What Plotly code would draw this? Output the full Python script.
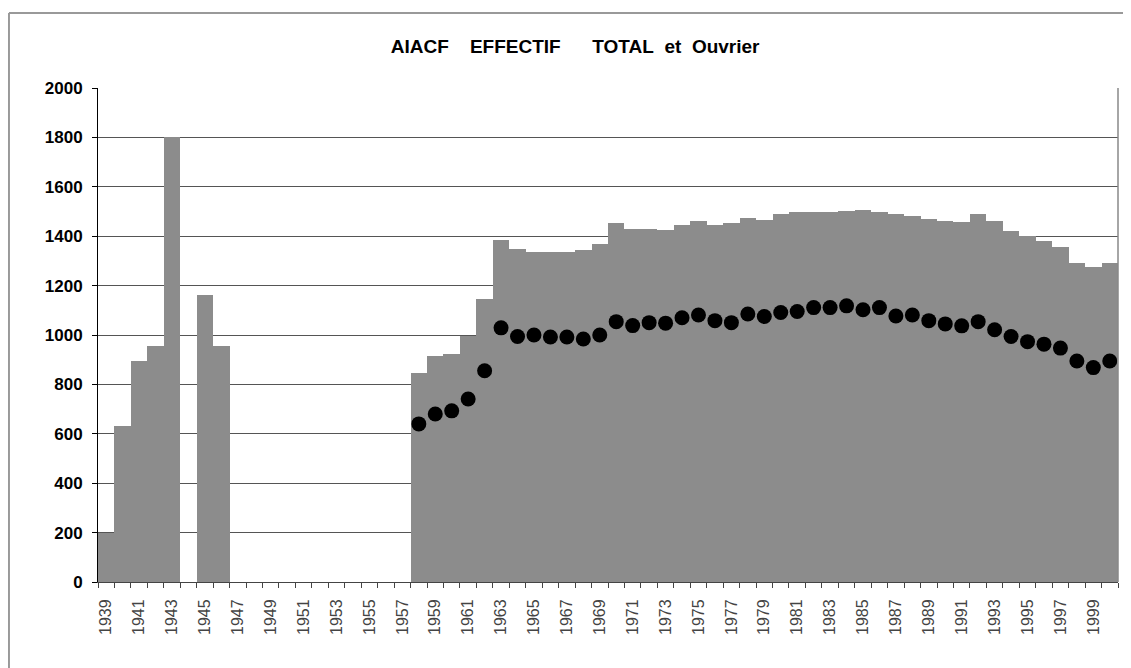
import plotly.graph_objects as go

# Effectif total par année (0 = pas de données)
years = list(range(1939, 2001))
total = [200, 630, 895, 955, 1800, 0, 1160, 955,
         0, 0, 0, 0, 0, 0, 0, 0, 0, 0, 0,
         845, 915, 925, 995, 1145, 1385, 1350, 1335, 1335, 1338, 1345, 1370,
         1455, 1430, 1428, 1425, 1445, 1460, 1445, 1455, 1472, 1465,
         1490, 1500, 1500, 1500, 1502, 1505, 1500, 1490, 1480, 1470,
         1460, 1458, 1488, 1460, 1420, 1400, 1380, 1355, 1292, 1275, 1292]

# Effectif ouvrier (à partir de 1958)
ouvrier_years = list(range(1958, 2001))
ouvrier = [640, 680, 693, 741, 855, 1029, 994, 1000, 992, 992, 984, 1000,
           1054, 1038, 1050, 1048, 1070, 1081, 1058, 1050, 1085, 1075,
           1091, 1095, 1111, 1111, 1118, 1102, 1111, 1077, 1081, 1058,
           1045, 1037, 1054, 1021, 994, 973, 963, 947, 895, 868, 895]

label_years = list(range(1939, 2000, 2))

nb = '\u00a0'
title_txt = 'AIACF' + nb * 4 + 'EFFECTIF' + nb * 6 + 'TOTAL' + nb * 2 + 'et' + nb * 2 + 'Ouvrier'

fig = go.Figure()
fig.add_trace(go.Bar(x=years, y=total, width=1, name='Total',
                     marker=dict(color='#8c8c8c', line=dict(width=0))))
fig.add_trace(go.Scatter(x=ouvrier_years, y=ouvrier, mode='markers', name='Ouvrier',
                         marker=dict(color='black', size=15)))

# page body has an 8px margin, so the figure is shifted by 8px
fig.update_layout(
    width=1123, height=660,
    margin=dict(l=90, r=13, t=80, b=86),
    paper_bgcolor='white', plot_bgcolor='white',
    showlegend=False, bargap=0,
    font=dict(family='Liberation Sans, Arial, sans-serif', color='black'),
    title=dict(text='<b>' + title_txt + '</b>',
               x=0.505, xanchor='center', y=0.942, yanchor='middle',
               font=dict(size=19, color='black')),
    xaxis=dict(range=[1938.5, 2000.5], tickmode='array', tickvals=label_years,
               ticktext=[str(y) for y in label_years], tickangle=-90,
               ticks='', showgrid=False, zeroline=False, ticklabelstandoff=10,
               showline=True, linecolor='#444', linewidth=1,
               tickfont=dict(size=16, color='#444'),
               minor=dict(tickmode='array', tickvals=[y - 0.5 for y in years] + [2000.5],
                          ticks='outside', ticklen=5, tickcolor='#444', showgrid=False)),
    yaxis=dict(range=[0, 2000], dtick=200, ticks='outside', ticklen=5, tickcolor='black',
               showgrid=True, gridcolor='#555', gridwidth=1, zeroline=False,
               showline=True, linecolor='black', linewidth=1, ticklabelstandoff=6,
               tickfont=dict(size=17, color='black'), tickprefix='<b>', ticksuffix='</b>'),
    shapes=[
        dict(type='line', xref='paper', yref='paper', x0=1, x1=1, y0=0, y1=1,
             line=dict(color='#888', width=1.5)),
        # outer chart frame (top and left edges; the rest is off the picture)
        dict(type='line', xref='paper', yref='paper', x0=-0.0873, x1=1.03,
             y0=1.1518, y1=1.1518, line=dict(color='#999', width=2)),
        dict(type='line', xref='paper', yref='paper', x0=-0.0873, x1=-0.0873,
             y0=-0.2, y1=1.1518, line=dict(color='#999', width=2)),
    ],
)

fig.write_html("out.html")
